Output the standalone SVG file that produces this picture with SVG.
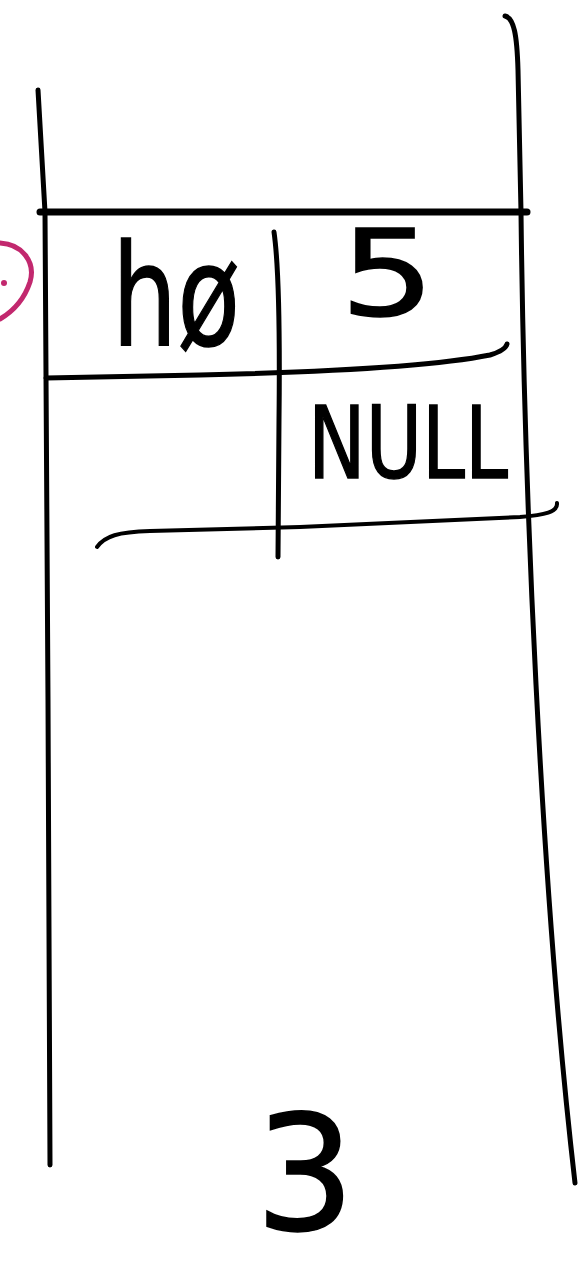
<svg xmlns="http://www.w3.org/2000/svg" width="588" height="1270" viewBox="0 0 588 1270">
<style>
.ln{fill:none;stroke:#000;stroke-linecap:round;stroke-linejoin:round}
.hw{font-family:"DejaVu Sans","Liberation Sans",sans-serif;fill:#000;stroke:#000;stroke-width:1.5}
.pink{fill:none;stroke:#c2286e;stroke-width:5;stroke-linecap:round}
</style>
<rect width="588" height="1270" fill="#fff"/>
<g id="frame">
<path class="ln" stroke-width="5" d="M38,90 L45,212 L48,700 L50,1165"/>
<path class="ln" stroke-width="5" d="M505,16 C514,18 517,35 518,70 L521,212 C524,480 540,880 575,1183"/>
<path class="ln" stroke-width="7" d="M40,212 L527,212"/>
</g>
<g id="cells">
<path class="ln" stroke-width="5" d="M46,378 L200,375 C330,372 440,365 490,355 C500,352 506,348 507,344"/>
<path class="ln" stroke-width="4" d="M97,547 C105,536 118,532 150,531 L300,527 L520,517 C545,515 558,512 557,503"/>
<path class="ln" stroke-width="5" d="M274,232 C278,260 280,330 279,420 L278,557"/>
</g>
<g id="pink-mark">
<path class="pink" d="M0,243 C22,244 36,262 30,282 C24,300 12,312 0,319"/>
<circle cx="4" cy="283" r="3" fill="#c2286e"/>
</g>
<g id="node-h0">
<text class="hw" x="112" y="345" font-size="140" textLength="128" lengthAdjust="spacingAndGlyphs">hø</text>
</g>
<g id="node-5">
<text class="hw" x="340" y="315" font-size="120" textLength="95" lengthAdjust="spacingAndGlyphs">5</text>
</g>
<g id="node-null">
<text class="hw" x="308" y="478" font-size="100" textLength="200" lengthAdjust="spacingAndGlyphs">NULL</text>
</g>
<g id="node-3">
<text class="hw" x="255" y="1230" font-size="160" textLength="100" lengthAdjust="spacingAndGlyphs">3</text>
</g>
</svg>
